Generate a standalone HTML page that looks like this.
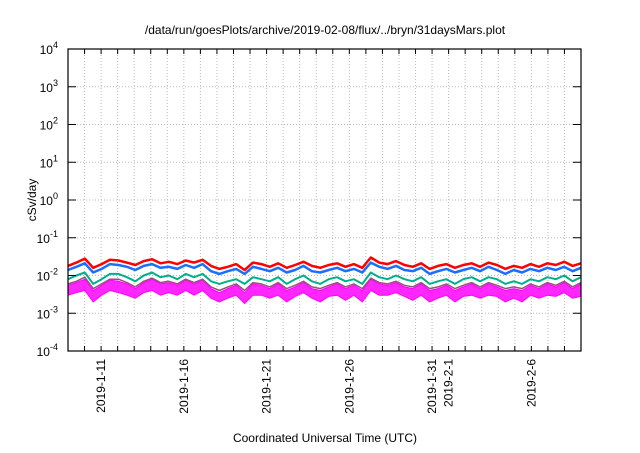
<!DOCTYPE html>
<html><head><meta charset="utf-8"><style>
body{margin:0;background:#fff;width:640px;height:448px;overflow:hidden}
svg text{font-family:"Liberation Sans",sans-serif;fill:#000}
</style></head><body>
<svg id="c" width="640" height="448">
<text x="325" y="34" font-size="12" text-anchor="middle">/data/run/goesPlots/archive/2019-02-08/flux/../bryn/31daysMars.plot</text>
<text x="325" y="442" font-size="12" text-anchor="middle">Coordinated Universal Time (UTC)</text>
<text transform="translate(36,200) rotate(-90)" font-size="12" text-anchor="middle">cSv/day</text>
<g id="grid"></g><g id="series"></g><g id="axes"></g>
</svg>
<script>
const xLabels=["2019-1-11","2019-1-16","2019-1-21","2019-1-26","2019-1-31","2019-2-1","2019-2-6"];
const xLabelDays=[2,7,12,17,22,23,28];
const yExps=[-4,-3,-2,-1,0,1,2,3,4];
const red=[0.018,0.022,0.028,0.016,0.02,0.026,0.025,0.022,0.019,0.024,0.027,0.021,0.023,0.02,0.025,0.022,0.026,0.018,0.015,0.017,0.02,0.014,0.022,0.02,0.017,0.021,0.016,0.019,0.023,0.018,0.016,0.019,0.021,0.017,0.02,0.016,0.03,0.022,0.02,0.024,0.019,0.017,0.021,0.015,0.018,0.02,0.016,0.019,0.021,0.017,0.022,0.019,0.015,0.018,0.016,0.02,0.017,0.021,0.019,0.023,0.018,0.021];
const blue=[0.014,0.017,0.021,0.012,0.015,0.02,0.019,0.017,0.014,0.018,0.02,0.016,0.017,0.015,0.019,0.016,0.02,0.013,0.011,0.013,0.015,0.011,0.017,0.015,0.013,0.016,0.012,0.014,0.018,0.013,0.012,0.014,0.016,0.013,0.015,0.012,0.022,0.017,0.015,0.018,0.014,0.013,0.016,0.011,0.013,0.015,0.012,0.014,0.016,0.013,0.017,0.014,0.011,0.014,0.012,0.015,0.013,0.016,0.014,0.017,0.013,0.016];
const teal=[0.008,0.01,0.012,0.006,0.008,0.011,0.011,0.009,0.007,0.01,0.012,0.009,0.01,0.008,0.011,0.009,0.011,0.007,0.006,0.007,0.008,0.006,0.009,0.008,0.007,0.009,0.006,0.008,0.01,0.007,0.006,0.008,0.009,0.007,0.008,0.006,0.012,0.009,0.008,0.01,0.008,0.007,0.009,0.006,0.007,0.008,0.006,0.008,0.009,0.007,0.009,0.008,0.006,0.007,0.006,0.008,0.007,0.009,0.008,0.01,0.007,0.009];
const purple=[0.006,0.007,0.009,0.0045,0.006,0.008,0.008,0.0065,0.005,0.007,0.0085,0.0065,0.007,0.006,0.008,0.0065,0.008,0.005,0.004,0.005,0.006,0.004,0.0065,0.006,0.005,0.0065,0.0045,0.0055,0.007,0.005,0.0045,0.0055,0.0065,0.005,0.006,0.0045,0.0085,0.0065,0.006,0.007,0.0055,0.005,0.0065,0.0045,0.005,0.006,0.0045,0.0055,0.0065,0.005,0.0065,0.0055,0.0045,0.005,0.0045,0.006,0.005,0.0065,0.0055,0.007,0.005,0.0065];
const magHigh=[0.0055,0.0065,0.008,0.004,0.0055,0.0075,0.007,0.006,0.0045,0.0065,0.008,0.006,0.0065,0.0055,0.0075,0.006,0.0075,0.0045,0.0035,0.0045,0.0055,0.0035,0.006,0.0055,0.0045,0.006,0.004,0.005,0.0065,0.0045,0.004,0.005,0.006,0.0045,0.0055,0.004,0.008,0.006,0.0055,0.0065,0.005,0.0045,0.006,0.004,0.0045,0.0055,0.004,0.005,0.006,0.0045,0.006,0.005,0.004,0.0045,0.004,0.0055,0.0045,0.006,0.005,0.0065,0.0045,0.006];
const magLow=[0.003,0.0035,0.004,0.002,0.003,0.004,0.0035,0.003,0.0025,0.0035,0.004,0.003,0.0035,0.003,0.004,0.003,0.004,0.0025,0.002,0.0025,0.003,0.0018,0.003,0.003,0.0025,0.003,0.002,0.0028,0.0035,0.0025,0.002,0.0028,0.003,0.0022,0.003,0.002,0.004,0.003,0.003,0.0035,0.0028,0.0022,0.003,0.002,0.0025,0.003,0.002,0.0028,0.003,0.0025,0.003,0.0028,0.002,0.0025,0.002,0.003,0.0025,0.003,0.0028,0.0035,0.0025,0.0028];
const L=68,R=581,T=49,B=351,DAYS=31;
const xs=d=>L+(R-L)*d/DAYS;
const ys=v=>B-(Math.log10(v)+4)*(B-T)/8;
const NS="http://www.w3.org/2000/svg";
function mk(tag,attrs,parent){const e=document.createElementNS(NS,tag);for(const k in attrs)e.setAttribute(k,attrs[k]);document.getElementById(parent).appendChild(e);return e;}
for(let d=1;d<DAYS;d++){
  const g=mk('line',{x1:xs(d),x2:xs(d),y1:T,y2:B,stroke:'#bbb','stroke-width':1,'stroke-dasharray':'1,2'},'grid');
  
  
  const t1=mk('line',{x1:xs(d),x2:xs(d),y1:B,y2:B-5,stroke:'#000'},'axes');
  
  
  const t2=mk('line',{x1:xs(d),x2:xs(d),y1:T,y2:T+5,stroke:'#000'},'axes');
  
  
}
yExps.forEach(e=>{
  const y=ys(Math.pow(10,e));
  if(e>-4&&e<4){const g=mk('line',{x1:L,x2:R,y1:y,y2:y,stroke:'#bbb','stroke-dasharray':'1,2'},'grid');
  
  }
  const t=mk('line',{x1:L,x2:L+8,y1:y,y2:y,stroke:'#000'},'axes');
  
  
  const t3=mk('line',{x1:R,x2:R-8,y1:y,y2:y,stroke:'#000'},'axes');
  
  
  const tx=mk('text',{x:L-10,y:y+5,'font-size':12,'text-anchor':'end'},'axes');
  
  
  tx.innerHTML='10<tspan dy="-6" font-size="9">'+e+'</tspan>';
});
xLabels.forEach((s,i)=>{
  const x=xs(xLabelDays[i]);
  const tx=mk('text',{transform:`translate(${x+4},${B+8}) rotate(-90)`,'font-size':12,'text-anchor':'end'},'axes');
  
  
  tx.textContent=s;
});
const fr=mk('rect',{x:L,y:T,width:R-L,height:B-T,fill:'none',stroke:'#000','stroke-width':1.2},'axes');


function line(arr,color,w,name){
  const n=arr.length;
  const pts=arr.map((v,i)=>xs(i*DAYS/(n-1)).toFixed(1)+','+ys(v).toFixed(1)).join(' ');
  const p=mk('polyline',{points:pts,fill:'none',stroke:color,'stroke-width':w,'stroke-linejoin':'round'},'series');
  
  
}
{const n=magHigh.length;
 const up=magHigh.map((v,i)=>xs(i*DAYS/(n-1)).toFixed(1)+','+ys(v).toFixed(1));
 const lo=magLow.map((v,i)=>xs(i*DAYS/(n-1)).toFixed(1)+','+ys(v).toFixed(1)).reverse();
 const p=mk('polygon',{points:up.concat(lo).join(' '),fill:'#ff00ff','fill-opacity':0.85,stroke:'#ff00ff','stroke-width':1},'series');
 
 }
line(purple,'#9a4f7f',1.5,'series-purple');
line(teal,'#00b08a',2,'series-teal');
line(red,'#ff0000',2.5,'series-red');
line(blue,'#1a6fff',2.5,'series-blue');
</script>
</body></html>
